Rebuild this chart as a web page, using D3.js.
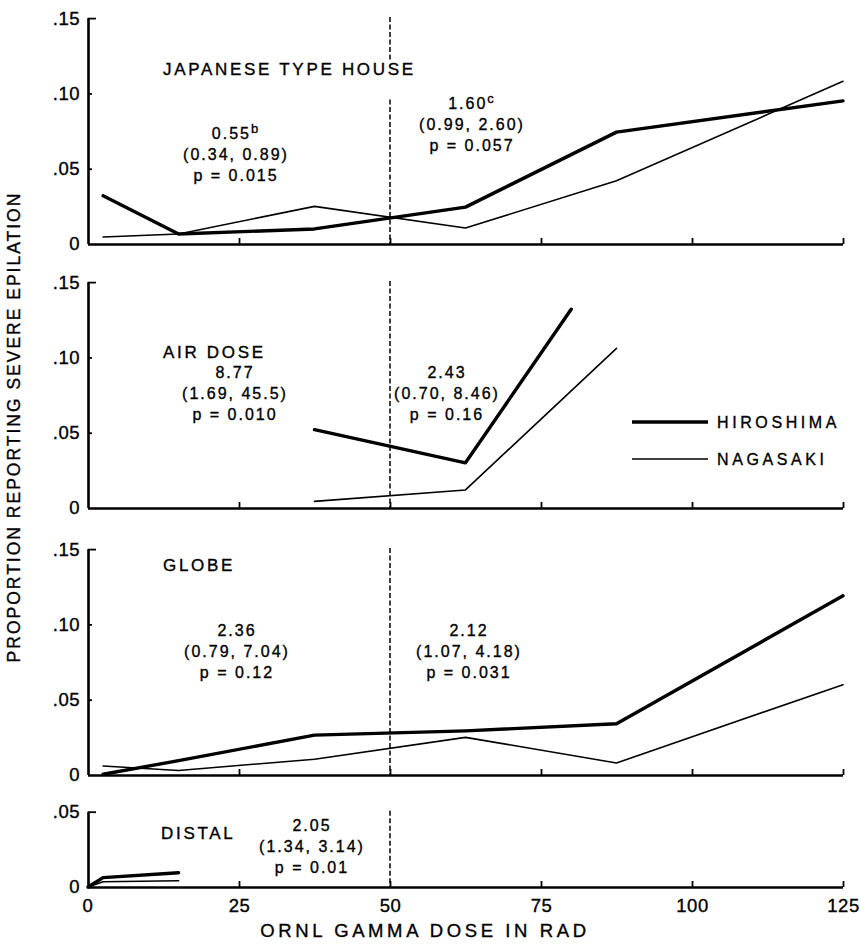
<!DOCTYPE html>
<html>
<head>
<meta charset="utf-8">
<script src="https://cdn.jsdelivr.net/npm/d3@7"></script>
<style>
  html, body { margin: 0; padding: 0; background: #fff; }
  svg { display: block; font-family: "Liberation Sans", Arial, Helvetica, sans-serif; }
  svg text { stroke: #000; stroke-width: 0.35px; fill: #000; }
</style>
</head>
<body>
<svg id="chart" width="864" height="944"></svg>
<script>
// ---------------- DATA ----------------
const xTickValues = [0, 25, 50, 75, 100, 125];
const xTickLabels = ["0", "25", "50", "75", "100", "125"];
const yTickValues = [0, 0.05, 0.10, 0.15];
const yTickLabels = ["0", ".05", ".10", ".15"];
const distalTickValues = [0, 0.05];
const distalTickLabels = ["0", ".05"];

const panelNames = ["JAPANESE TYPE HOUSE", "AIR DOSE", "GLOBE", "DISTAL"];
const seriesNames = ["HIROSHIMA", "NAGASAKI"];

// Japanese type house
const houseDose = [2.5, 15, 37.5, 62.5, 87.5, 125];
const houseHiroshima = [0.032, 0.0066, 0.010, 0.0245, 0.0743, 0.095];
const houseNagasaki = [0.0046, 0.0066, 0.025, 0.0106, 0.042, 0.108];

// Air dose
const airDoseHiroshima = [37.5, 62.5, 80];
const airHiroshima = [0.052, 0.030, 0.132];
const airDoseNagasaki = [37.5, 62.5, 87.5];
const airNagasaki = [0.0044, 0.012, 0.106];

// Globe
const globeDose = [2.5, 15, 37.5, 62.5, 87.5, 125];
const globeHiroshima = [0.0005, 0.0095, 0.0265, 0.0293, 0.034, 0.119];
const globeNagasaki = [0.006, 0.003, 0.0105, 0.025, 0.008, 0.060];

// Distal
const distalDose = [0, 2.5, 15];
const distalHiroshima = [0, 0.0062, 0.0095];
const distalNagasaki = [0, 0.0035, 0.0042];

// Annotation texts (relative risk, superscript, CI, p) – [below 50 rad, above 50 rad]
const houseNotes = [["0.55", "b", "(0.34, 0.89)", "p = 0.015"], ["1.60", "c", "(0.99, 2.60)", "p = 0.057"]];
const airNotes = [["8.77", "", "(1.69, 45.5)", "p = 0.010"], ["2.43", "", "(0.70, 8.46)", "p = 0.16"]];
const globeNotes = [["2.36", "", "(0.79, 7.04)", "p = 0.12"], ["2.12", "", "(1.07, 4.18)", "p = 0.031"]];
const distalNotes = [["2.05", "", "(1.34, 3.14)", "p = 0.01"]];

const splitDose = 50;
const yLabel = "PROPORTION REPORTING SEVERE EPILATION";
const xLabel = "ORNL GAMMA DOSE IN RAD";

// ---------------- LAYOUT ----------------
const svg = d3.select("#chart");
const x = d3.scaleLinear().domain([0, 125]).range([88, 843]);
const pxPer005 = 75.3;

const panels = [
  { name: panelNames[0], y0: 244, ymax: 0.15, ticks: yTickValues, labels: yTickLabels,
    series: [[houseDose, houseHiroshima], [houseDose, houseNagasaki]],
    notes: houseNotes, notePos: [[236, 139], [472, 109]], titlePos: [163, 75], gap: [62, 97] },
  { name: panelNames[1], y0: 508, ymax: 0.15, ticks: yTickValues, labels: yTickLabels,
    series: [[airDoseHiroshima, airHiroshima], [airDoseNagasaki, airNagasaki]],
    notes: airNotes, notePos: [[235, 378], [447, 378]], titlePos: [163, 358], gap: null },
  { name: panelNames[2], y0: 775, ymax: 0.15, ticks: yTickValues, labels: yTickLabels,
    series: [[globeDose, globeHiroshima], [globeDose, globeNagasaki]],
    notes: globeNotes, notePos: [[237, 636], [469, 636]], titlePos: [163, 571], gap: null },
  { name: panelNames[3], y0: 887, ymax: 0.05, ticks: distalTickValues, labels: distalTickLabels,
    series: [[distalDose, distalHiroshima], [distalDose, distalNagasaki]],
    notes: distalNotes, notePos: [[312, 831]], titlePos: [161, 839], gap: null }
];

const strokeW = [3.4, 1.6];
const lineGap = 21;

panels.forEach((p, i) => {
  const y = d3.scaleLinear().domain([0, p.ymax]).range([p.y0, p.y0 - pxPer005 * p.ymax / 0.05]);
  const g = svg.append("g");

  // dashed 50-rad divider (broken where the panel title crosses it)
  const topY = y(p.ymax) - 1;
  const xs = x(splitDose);
  g.append("line").attr("x1", xs).attr("x2", xs).attr("y1", topY).attr("y2", p.y0)
    .attr("stroke", "#000").attr("stroke-width", 1.5).attr("stroke-dasharray", "5,2.5");
  if (p.gap) {
    g.append("rect").attr("x", xs - 3).attr("width", 6)
      .attr("y", p.gap[0]).attr("height", p.gap[1] - p.gap[0]).attr("fill", "#fff");
  }

  // y axis
  const yAxis = d3.axisLeft(y).tickValues(p.ticks)
    .tickFormat((d, k) => p.labels[k]).tickSizeInner(-4).tickSizeOuter(0).tickPadding(8);
  const ya = g.append("g").attr("transform", `translate(${x(0)},0)`).call(yAxis);
  ya.select(".domain").attr("stroke-width", 2.6).attr("d", `M0.5,${y(p.ymax)}V${p.y0}`);
  ya.selectAll(".tick line").attr("stroke-width", 1.8);
  ya.selectAll(".tick").filter(d => d === 0).select("line").remove();
  ya.selectAll(".tick").filter(d => d === p.ymax).select("line").attr("x2", 8);
  ya.selectAll("text").attr("font-size", 18.5)
    .attr("font-family", "Liberation Sans, Arial, sans-serif").attr("letter-spacing", 0.5);

  // x axis
  const last = i === panels.length - 1;
  const xAxis = d3.axisBottom(x).tickValues(xTickValues.slice(1))
    .tickFormat((d) => last ? xTickLabels[xTickValues.indexOf(d)] : "")
    .tickSizeInner(-6).tickSizeOuter(0).tickPadding(12);
  const xa = g.append("g").attr("transform", `translate(0,${p.y0})`).call(xAxis);
  xa.select(".domain").attr("stroke-width", 2.6).attr("d", `M${x(0)},0.5H${x(125)}`);
  xa.selectAll(".tick line").attr("stroke-width", 1.8);
  xa.selectAll("text").attr("font-size", 18.5)
    .attr("font-family", "Liberation Sans, Arial, sans-serif").attr("letter-spacing", 0.5);
  if (last) {
    xa.append("text").attr("x", x(0)).attr("y", 12).attr("dy", "0.71em")
      .attr("text-anchor", "middle").attr("font-size", 18.5)
      .attr("letter-spacing", 0.5).text(xTickLabels[0]);
  }

  // series lines
  const line = d3.line().x(d => x(d[0])).y(d => y(d[1]));
  p.series.forEach((s, k) => {
    const pts = s[0].map((d, j) => [d, s[1][j]]);
    g.append("path").datum(pts).attr("d", line).attr("fill", "none")
      .attr("stroke", "#000").attr("stroke-width", strokeW[k])
      .attr("stroke-linejoin", "round").attr("stroke-linecap", "round");
  });

  // panel title
  g.append("text").attr("x", p.titlePos[0]).attr("y", p.titlePos[1])
    .attr("font-size", 17).attr("letter-spacing", 2.7).text(p.name);

  // notes
  p.notes.forEach((n, k) => {
    const [cx, by] = p.notePos[k];
    const t1 = g.append("text").attr("x", cx).attr("y", by).attr("text-anchor", "middle")
      .attr("font-size", 16).attr("letter-spacing", 2);
    t1.append("tspan").text(n[0]);
    if (n[1]) t1.append("tspan").attr("dy", -6).attr("font-size", 13).text(n[1]);
    g.append("text").attr("x", cx).attr("y", by + lineGap).attr("text-anchor", "middle")
      .attr("font-size", 16).attr("letter-spacing", 2).text(n[2]);
    g.append("text").attr("x", cx).attr("y", by + 2 * lineGap).attr("text-anchor", "middle")
      .attr("font-size", 16).attr("letter-spacing", 2).text(n[3]);
  });
});

// legend
const legend = svg.append("g");
[[422, 428], [459, 465]].forEach((pos, k) => {
  legend.append("line").attr("x1", 632).attr("x2", 708).attr("y1", pos[0]).attr("y2", pos[0])
    .attr("stroke", "#000").attr("stroke-width", strokeW[k]);
  legend.append("text").attr("x", 717).attr("y", pos[1]).attr("font-size", 16)
    .attr("letter-spacing", 3.6).text(seriesNames[k]);
});

// axis titles
svg.append("text").attr("transform", "translate(20,427) rotate(-90)")
  .attr("text-anchor", "middle").attr("font-size", 17.5).attr("letter-spacing", 2)
  .text(yLabel);
svg.append("text").attr("x", 425).attr("y", 937).attr("text-anchor", "middle")
  .attr("font-size", 18.5).attr("letter-spacing", 3.6).text(xLabel);
</script>
</body>
</html>
